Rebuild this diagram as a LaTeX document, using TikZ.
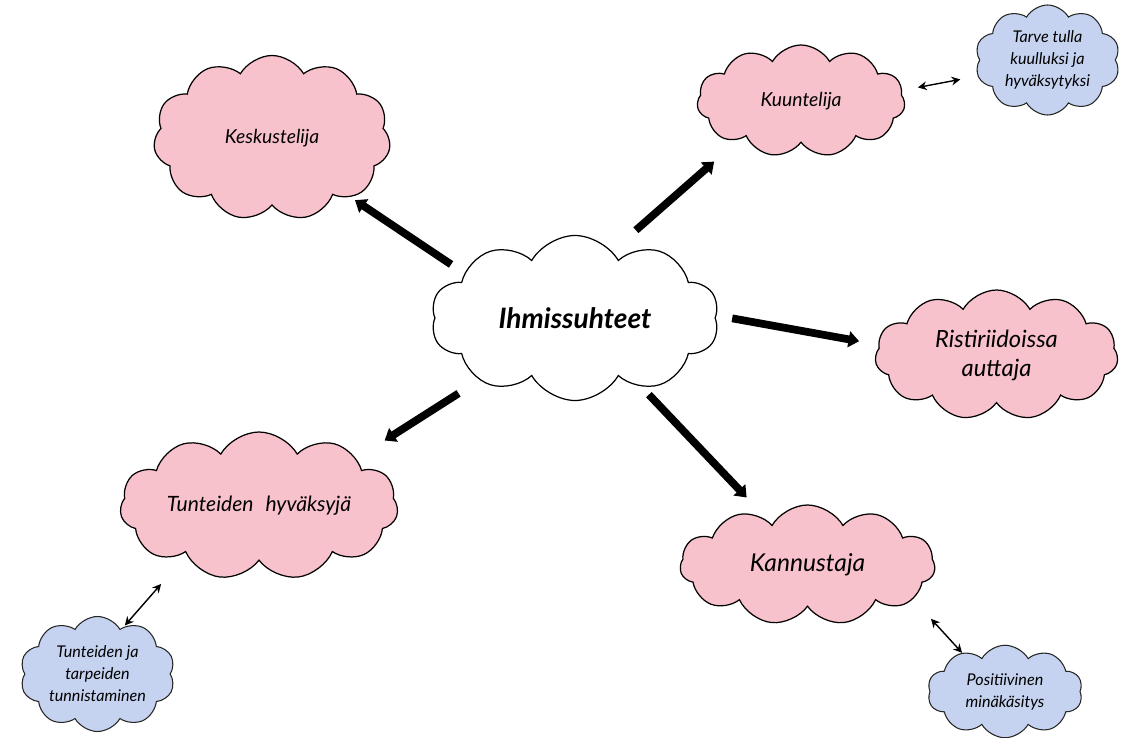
\documentclass[tikz,border=0pt]{standalone}
\usepackage{fontspec}
\setmainfont{Lato}
\usetikzlibrary{shapes.symbols,arrows.meta}
\definecolor{cloudpinkfill}{RGB}{248,194,205}
\definecolor{cloudbluefill}{RGB}{197,211,240}
\begin{document}
\begin{tikzpicture}[
    cloudbase/.style={cloud, cloud puffs=11, cloud puff arc=120, cloud ignores aspect, draw=black, line width=0.7pt, align=center, font=\itshape, inner sep=0pt},
    cloudpink/.style={cloudbase, fill=cloudpinkfill},
    cloudblue/.style={cloudbase, cloud puffs=10, draw=black!85, line width=0.6pt, fill=cloudbluefill, font=\itshape\fontsize{9.2}{12.5}\selectfont},
    bigarrow/.style={line width=4.4pt, -{Triangle[width=9pt,length=6pt]}},
    thinarrow/.style={line width=0.8pt, {Stealth[length=5pt,width=5pt]}-{Stealth[length=5pt,width=5pt]}}
]
    \useasboundingbox (0,0) rectangle (22.5,-14.76);

    \node[cloudbase, cloud puffs=10, fill=white, minimum width=5.76cm, minimum height=3.3cm, font=\bfseries\itshape\fontsize{16}{20}\selectfont] (ihm) at (11.5,-6.36) {Ihmissuhteet};

    \node[cloudpink, minimum width=4.74cm, minimum height=3.3cm, font=\itshape\fontsize{11}{15}\selectfont] (kesk) at (5.44,-2.76) {Keskustelija};
    \node[cloudpink, minimum width=4.16cm, minimum height=2.24cm, font=\itshape\fontsize{11}{15}\selectfont] (kuun) at (16.02,-2.02) {Kuuntelija};
    \node[cloudpink, minimum width=4.86cm, minimum height=2.6cm, font=\itshape\fontsize{13.5}{16.5}\selectfont] (rist) at (19.93,-7.1) {Ristiriidoissa\\auttaja};
    \node[cloudpink, minimum width=5.56cm, minimum height=2.96cm, font=\itshape\fontsize{12}{15}\selectfont] (tunt) at (5.18,-10.12) {Tunteiden\,\, hyväksyjä};
    \node[cloudpink, minimum width=5.1cm, minimum height=2.4cm, font=\itshape\fontsize{14}{18}\selectfont] (kann) at (16.15,-11.3) {Kannustaja};

    \node[cloudblue, minimum width=2.9cm, minimum height=2.2cm] (tarve) at (20.95,-1.2) {Tarve tulla\\kuulluksi ja\\hyväksytyksi};
    \node[cloudblue, minimum width=3.1cm, minimum height=2.3cm] (tunn) at (1.95,-13.48) {Tunteiden ja\\tarpeiden\\tunnistaminen};
    \node[cloudblue, minimum width=3.1cm, minimum height=1.85cm] (posi) at (20.1,-13.83) {Positiivinen\\minäkäsitys};

    \foreach \from/\target/\to/\sa/\sb in {158/kesk/-37/9/3, 61/kuun/-148/18/19, 1/rist/175/9/11, -147/tunt/26/14/19, -46/kann/131/6/21} {
        \draw[bigarrow, shorten <=\sa pt, shorten >=\sb pt] (ihm.\from) -- (\target.\to);
    }

    \draw[thinarrow, shorten <=9pt, shorten >=10pt] (kuun.6) -- (tarve.193);
    \draw[thinarrow, shorten <=22pt, shorten >=1pt] (tunt.-146) -- (tunn.61);
    \draw[thinarrow, shorten <=15pt, shorten >=0pt] (kann.-18) -- (posi.138);
\end{tikzpicture}
\end{document}
